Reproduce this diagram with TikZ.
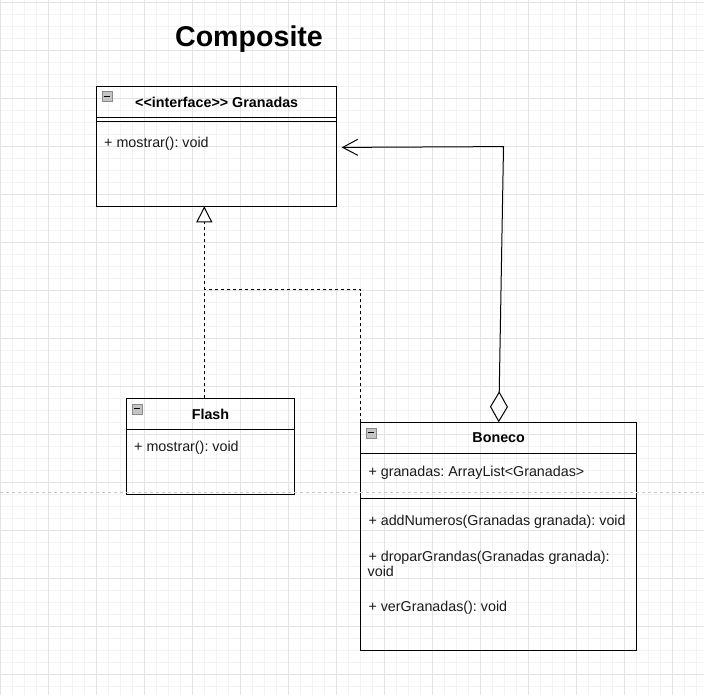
\documentclass[tikz,border=0pt]{standalone}
\usepackage{fontspec}
\setmainfont{Liberation Sans}
\usetikzlibrary{arrows.meta}
\frenchspacing
\definecolor{gridminor}{HTML}{F3F3F3}
\definecolor{gridmajor}{HTML}{E3E3E3}
\definecolor{pagebreak}{HTML}{C8C8C8}
\definecolor{txt}{HTML}{1A1A1A}
\definecolor{iconfill}{HTML}{C4C4C4}
\definecolor{icondraw}{HTML}{8A8A8A}
\tikzset{
  umlbox/.style={draw=black, line width=1pt, rectangle, anchor=north west, inner sep=0pt, outer sep=0pt},
  sep/.style={draw=black, line width=1pt},
  title/.style={font=\fontsize{14.3}{17}\selectfont\bfseries, text=black, inner sep=0pt, anchor=base},
  member/.style={font=\fontsize{14.3}{17}\selectfont, text=txt, inner sep=0pt, anchor=base west},
  icon/.style={draw=icondraw, fill=iconfill, line width=0.6pt, minimum width=10pt, minimum height=10pt, inner sep=0pt, anchor=north west},
  realize/.style={draw=black, line width=1pt, dash pattern=on 3pt off 3pt},
  assoc/.style={draw=black, line width=1pt},
}
\newcommand{\boxicon}[2]{%
  \node[icon] (#1) at (#2) {};
  \draw[black, line width=1pt] ([xshift=2pt]#1.west) -- ([xshift=-2pt]#1.east);
}
\begin{document}
\begin{tikzpicture}[x=1pt,y=-1pt]
\useasboundingbox (0,0) rectangle (704,695);
\fill[white] (0,0) rectangle (704,695);
% grid
\foreach \x in {0,12,...,696} \draw[gridminor, line width=0.8pt] (\x,0) -- (\x,695);
\foreach \y in {2,14,...,694} \draw[gridminor, line width=0.8pt] (0,\y) -- (704,\y);
\foreach \x in {0,48,...,672} \draw[gridmajor, line width=0.8pt] (\x,0) -- (\x,695);
\foreach \y in {2,50,...,674} \draw[gridmajor, line width=0.8pt] (0,\y) -- (704,\y);

% title
\node[font=\fontsize{28.6}{34}\selectfont\bfseries, text=black, inner sep=0pt, anchor=base] (ttl) at (249,46.7) {Composite};

% Granadas
\node[umlbox, minimum width=240pt, minimum height=120pt] (gran) at (96.7,86.3) {};
\draw[sep] (96.7,117.3) -- (336.7,117.3);
\draw[sep] (96.7,121.8) -- (336.7,121.8);
\boxicon{granicon}{101.5,91}
\node[title] (grant) at (216.7,107.4) {<\kern0pt<interface>\kern0pt> Granadas};
\node[member] (granm) at (104,147.8) {+ mostrar(): void};

% Flash
\node[umlbox, minimum width=167.6pt, minimum height=95.7pt] (flash) at (126.7,398.3) {};
\draw[sep] (126.7,429.3) -- (294.3,429.3);
\boxicon{flashicon}{131.5,403.5}
\node[title] (flasht) at (210.5,419.1) {Flash};
\node[member] (flashm) at (134,451.1) {+ mostrar(): void};

% Boneco
\node[umlbox, minimum width=276pt, minimum height=227.7pt] (bon) at (360.7,422.3) {};
\draw[sep] (360.7,453.3) -- (636.7,453.3);
\draw[sep] (360.7,498.8) -- (636.7,498.8);
\boxicon{bonicon}{365.5,427.5}
\node[title] (bont) at (498.7,442.8) {Boneco};
\node[member] (bona) at (368.3,476.1) {+ granadas: ArrayList<Granadas>};
\node[member] (bonm1) at (368.3,525.1) {+ addNumeros(Granadas granada): void};
\node[member] (bonm2) at (368.3,561.4) {+ droparGrandas(Granadas granada):};
\node[member] (bonm2b) at (367.5,576.6) {void};
\node[member] (bonm3) at (368.3,611.1) {+ verGranadas(): void};

% page break line
\draw[pagebreak, line width=0.8pt, dash pattern=on 3pt off 3pt] (0,492.5) -- (704,492.5);

% realization arrows
\coordinate (gtip) at (204.3,206.3);
\coordinate (fltop) at (204.3,398.3);
\coordinate (junc) at (204.3,289.5);
\draw[realize, -{Triangle[open, length=16pt, width=16pt, line width=1pt]}] (fltop) -- (gtip);
\draw[realize] (bon.north west) |- (junc);

% aggregation
\coordinate (bontop) at (498.7,422.3);
\coordinate (aggcorner) at (503.5,146.6);
\coordinate (aggtip) at (341.7,147.4);
\draw[assoc, {Diamond[open, length=31pt, width=18pt, line width=1pt]}-{Straight Barb[length=15pt, width=16pt, line width=1pt]}] (bontop) -- (aggcorner) -- (aggtip);
\end{tikzpicture}
\end{document}
